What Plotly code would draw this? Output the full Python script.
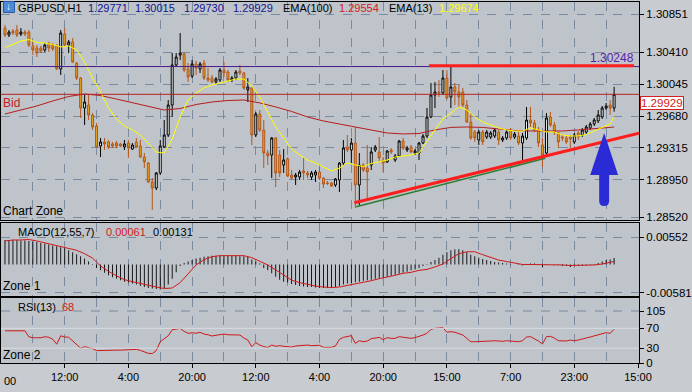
import plotly.graph_objects as go
from plotly.subplots import make_subplots

# ---------------- data ----------------
opens = [
1.30690,1.30610,1.30656,1.30667,1.30621,1.30644,1.30644,1.30484,1.30461,1.30461,
1.30438,1.30518,1.30495,1.30484,1.30220,1.30621,1.30495,1.30530,1.30288,1.30116,
1.29772,1.29806,1.29692,1.29565,1.29336,1.29382,1.29382,1.29359,1.29370,1.29359,
1.29324,1.29370,1.29301,1.29382,1.29336,1.29209,1.29140,1.28922,1.28853,1.29026,
1.29324,1.29462,1.29806,1.30266,1.30380,1.30392,1.30220,1.30139,1.30277,1.30220,
1.30288,1.30116,1.30116,1.30070,1.30093,1.30208,1.30185,1.30093,1.30116,1.30197,
1.30174,1.29979,1.30002,1.29462,1.29703,1.29519,1.29255,1.29232,1.29428,1.29232,
1.29117,1.29187,1.29003,1.28980,1.28980,1.29049,1.29026,1.28980,1.29003,1.29037,
1.28968,1.28911,1.28911,1.28888,1.28945,1.29140,1.29324,1.29290,1.29370,1.28888,
1.29117,1.29083,1.29117,1.29290,1.29267,1.29175,1.29152,1.29290,1.29175,1.29221,
1.29393,1.29290,1.29324,1.29255,1.29255,1.29370,1.29450,1.29669,1.29921,1.29956,
1.29944,1.30116,1.29898,1.30013,1.29956,1.29956,1.29806,1.29611,1.29496,1.29405,
1.29496,1.29439,1.29439,1.29450,1.29496,1.29405,1.29428,1.29519,1.29439,1.29450,
1.29370,1.29428,1.29634,1.29600,1.29519,1.29347,1.29255,1.29669,1.29577,1.29485,
1.29439,1.29428,1.29439,1.29382,1.29485,1.29462,1.29496,1.29542,1.29588,1.29623,
1.29669,1.29772,1.29806,1.29771]
highs = [
1.30725,1.30667,1.30679,1.30725,1.30690,1.30667,1.30667,1.30530,1.30495,1.30484,
1.30518,1.30530,1.30518,1.30507,1.30667,1.30690,1.30553,1.30576,1.30300,1.30128,
1.29921,1.29921,1.29714,1.29600,1.29428,1.29428,1.29405,1.29382,1.29393,1.29370,
1.29405,1.29405,1.29370,1.29428,1.29405,1.29255,1.29152,1.28968,1.29037,1.29405,
1.29634,1.29864,1.30403,1.30403,1.30633,1.30415,1.30288,1.30323,1.30311,1.30300,
1.30323,1.30231,1.30151,1.30128,1.30231,1.30300,1.30208,1.30139,1.30208,1.30266,
1.30185,1.30116,1.30013,1.29726,1.29749,1.29634,1.29290,1.29439,1.29439,1.29290,
1.29301,1.29209,1.29060,1.29026,1.29060,1.29209,1.29049,1.29049,1.29060,1.29095,
1.28980,1.28934,1.28922,1.28968,1.29152,1.29405,1.29462,1.29428,1.29554,1.29255,
1.29140,1.29347,1.29324,1.29347,1.29439,1.29209,1.29290,1.29313,1.29244,1.29405,
1.29428,1.29336,1.29347,1.29301,1.29382,1.29473,1.29772,1.30059,1.30070,1.30093,
1.30208,1.30208,1.30243,1.30059,1.30036,1.30002,1.29864,1.29714,1.29519,1.29519,
1.29519,1.29519,1.29508,1.29542,1.29519,1.29450,1.29519,1.29542,1.29496,1.29496,
1.29485,1.29783,1.29783,1.29634,1.29554,1.29428,1.29714,1.29726,1.29611,1.29496,
1.29462,1.29450,1.29462,1.29485,1.29508,1.29542,1.29577,1.29611,1.29657,1.29749,
1.29795,1.29829,1.29864,1.30015]
lows = [
1.30587,1.30587,1.30610,1.30587,1.30598,1.30598,1.30472,1.30380,1.30357,1.30403,
1.30415,1.30415,1.30426,1.30208,1.30151,1.30472,1.30403,1.30288,1.30093,1.29657,
1.29577,1.29634,1.29519,1.29313,1.29209,1.29290,1.29301,1.29313,1.29313,1.29324,
1.29290,1.29198,1.29290,1.29313,1.29198,1.29083,1.28911,1.28601,1.28830,1.29003,
1.29313,1.29439,1.29669,1.30243,1.30323,1.30185,1.30070,1.30116,1.30151,1.30174,
1.30093,1.30070,1.30059,1.30047,1.30070,1.30128,1.30070,1.30070,1.30093,1.30151,
1.29979,1.29841,1.29347,1.29439,1.29496,1.29083,1.29117,1.28968,1.28865,1.28980,
1.29026,1.28980,1.28945,1.28888,1.28945,1.28945,1.28968,1.28945,1.28922,1.28945,
1.28853,1.28888,1.28865,1.28865,1.28808,1.29117,1.29267,1.29140,1.28624,1.28658,
1.29037,1.28739,1.29060,1.29267,1.29152,1.29037,1.29140,1.29244,1.29152,1.29209,
1.29290,1.29267,1.29255,1.29232,1.29175,1.29359,1.29428,1.29657,1.29772,1.29898,
1.29921,1.29875,1.29772,1.29806,1.29783,1.29783,1.29600,1.29405,1.29382,1.29347,
1.29347,1.29416,1.29416,1.29428,1.29347,1.29382,1.29405,1.29405,1.29416,1.29347,
1.29175,1.29405,1.29554,1.29496,1.29324,1.29095,1.29209,1.29554,1.29462,1.29313,
1.29393,1.29359,1.29313,1.29359,1.29405,1.29439,1.29473,1.29519,1.29565,1.29600,
1.29646,1.29749,1.29692,1.29730]
closes = [
1.30610,1.30644,1.30633,1.30610,1.30644,1.30621,1.30495,1.30438,1.30403,1.30426,
1.30495,1.30461,1.30449,1.30220,1.30633,1.30495,1.30530,1.30300,1.30116,1.29772,
1.29841,1.29692,1.29554,1.29324,1.29382,1.29359,1.29324,1.29336,1.29336,1.29336,
1.29359,1.29313,1.29347,1.29324,1.29209,1.29152,1.28922,1.28853,1.29026,1.29336,
1.29462,1.29806,1.30266,1.30357,1.30403,1.30208,1.30128,1.30277,1.30231,1.30277,
1.30116,1.30093,1.30070,1.30105,1.30208,1.30174,1.30093,1.30116,1.30185,1.30174,
1.30002,1.30013,1.29462,1.29703,1.29519,1.29255,1.29221,1.29428,1.29026,1.29026,
1.29175,1.28991,1.28968,1.29003,1.29037,1.29026,1.29003,1.29026,1.29037,1.28968,
1.28899,1.28905,1.28876,1.28957,1.29140,1.29313,1.29290,1.29370,1.28888,1.29117,
1.29060,1.29037,1.29267,1.29324,1.29198,1.29140,1.29278,1.29267,1.29221,1.29393,
1.29313,1.29313,1.29267,1.29278,1.29370,1.29450,1.29669,1.29921,1.29956,1.29944,
1.30116,1.29887,1.30013,1.29956,1.29898,1.29806,1.29611,1.29428,1.29428,1.29496,
1.29382,1.29496,1.29485,1.29519,1.29405,1.29428,1.29496,1.29428,1.29473,1.29370,
1.29450,1.29634,1.29600,1.29519,1.29370,1.29232,1.29657,1.29577,1.29496,1.29382,
1.29428,1.29382,1.29416,1.29462,1.29439,1.29519,1.29554,1.29588,1.29634,1.29692,
1.29772,1.29795,1.29772,1.29929]

# EMA(100), sampled every 4th bar (+ last bar)
ema100 = [
1.29703,1.29749,1.29795,1.29853,1.29904,1.29933,1.29915,1.29875,1.29835,1.29795,
1.29749,1.29766,1.29812,1.29841,1.29858,1.29864,1.29830,1.29784,1.29732,1.29669,
1.29623,1.29588,1.29554,1.29520,1.29485,1.29474,1.29479,1.29520,1.29549,1.29554,
1.29549,1.29531,1.29514,1.29508,1.29508,1.29508,1.29520,1.29531,1.29549,1.29554]
# EMA(13), sampled every 2nd bar (+ last bar)
ema13 = [
1.30466,1.30501,1.30541,1.30558,1.30524,1.30518,1.30501,1.30472,1.30484,1.30438,
1.30300,1.30117,1.29956,1.29772,1.29646,1.29565,1.29520,1.29462,1.29359,1.29267,
1.29256,1.29416,1.29669,1.29864,1.29944,1.30002,1.30036,1.30059,1.30082,1.30105,
1.30105,1.30025,1.29898,1.29726,1.29554,1.29428,1.29302,1.29233,1.29175,1.29141,
1.29095,1.29049,1.29083,1.29141,1.29118,1.29100,1.29135,1.29152,1.29175,1.29210,
1.29221,1.29233,1.29256,1.29393,1.29520,1.29646,1.29715,1.29784,1.29749,1.29669,
1.29611,1.29577,1.29543,1.29520,1.29508,1.29508,1.29543,1.29520,1.29497,1.29497,
1.29462,1.29451,1.29451,1.29468,1.29508,1.29543,1.29588,1.29674]

macd_hist = [
0.0050,0.0050,0.0050,0.0050,0.0049,0.0049,0.0048,0.0047,0.0046,0.0044,
0.0043,0.0041,0.0039,0.0037,0.0035,0.0033,0.0029,0.0025,0.0021,0.0017,
0.0012,0.0006,-0.0001,-0.0007,-0.0012,-0.0017,-0.0022,-0.0026,-0.0029,-0.0032,
-0.0035,-0.0037,-0.0039,-0.0041,-0.0044,-0.0046,-0.0048,-0.0049,-0.0050,-0.0051,
-0.0048,-0.0041,-0.0029,-0.0016,-0.0003,0.0003,0.0006,0.0009,0.0012,0.0014,
0.0016,0.0017,0.0018,0.0018,0.0018,0.0018,0.0018,0.0018,0.0018,0.0017,
0.0017,0.0016,0.0010,0.0006,0.0002,-0.0007,-0.0012,-0.0018,-0.0025,-0.0031,
-0.0035,-0.0037,-0.0040,-0.0042,-0.0044,-0.0045,-0.0046,-0.0046,-0.0047,-0.0048,
-0.0048,-0.0048,-0.0047,-0.0046,-0.0044,-0.0041,-0.0039,-0.0038,-0.0036,-0.0035,
-0.0033,-0.0032,-0.0031,-0.0029,-0.0028,-0.0027,-0.0025,-0.0023,-0.0021,-0.0019,
-0.0017,-0.0015,-0.0012,-0.0010,-0.0007,-0.0003,-0.0001,0.0005,0.0009,0.0014,
0.0020,0.0025,0.0029,0.0031,0.0031,0.0029,0.0025,0.0020,0.0017,0.0014,
0.0011,0.0009,0.0007,0.0005,0.0004,0.0003,0.0002,0.0001,0.0000,-0.0001,
-0.0002,0.0000,0.0002,0.0002,-0.0001,-0.0005,-0.0001,0.0000,-0.0001,-0.0001,
-0.0003,-0.0003,-0.0005,-0.0003,-0.0003,-0.0003,-0.0002,-0.0001,0.0001,0.0003,
0.0006,0.0009,0.0010,0.00131]
# signal line, sampled every 2nd bar (+ last bar)
macd_signal = [
0.0048,0.0050,0.0050,0.0051,0.0048,0.0044,0.0040,0.0037,0.0033,0.0029,
0.0022,0.0013,-0.0003,-0.0014,-0.0023,-0.0031,-0.0035,-0.0039,-0.0043,-0.0046,
-0.0049,-0.0048,-0.0037,-0.0018,-0.0001,0.0010,0.0016,0.0018,0.0018,0.0018,
0.0018,0.0014,0.0007,-0.0001,-0.0011,-0.0022,-0.0032,-0.0037,-0.0041,-0.0044,
-0.0046,-0.0047,-0.0046,-0.0043,-0.0039,-0.0036,-0.0033,-0.0029,-0.0026,-0.0022,
-0.0018,-0.0016,-0.0012,-0.0010,-0.0005,0.0001,0.0012,0.0022,0.0026,0.0026,
0.0020,0.0014,0.0009,0.0006,0.0003,0.0000,0.0000,0.0000,0.0000,0.0000,
-0.0001,-0.0002,-0.0002,-0.0002,-0.0001,0.0001,0.0005,0.00061]

rsi = [
65,65,65,65,65,65,53,51,51,51,
53,52,48,38,55,52.5,52,45,38,30,
33,31,29,25,25.5,26,26,26,26,26,
26,26,27.5,27.5,25.5,22,19.5,19,25,43,
48.5,55,67,68,70,64,60,61,60,62,
58.5,57,54.5,56,58,58.5,57,56.5,57,56.5,
50.5,46.4,33,41,36.3,33,31.6,36.3,33.7,35,
33.7,32.3,32.3,34.3,35,35.7,36.3,35,35.7,35.7,
31.6,31.6,31.6,34.3,47.8,51.8,53.9,55.2,39.7,45,
43,44.4,49.1,51.2,51.8,47.1,51.2,49.8,49.8,53.2,
51.8,50.5,49.8,51.2,53.2,56.5,59.9,68,70,71.4,
71.4,62,63.3,62,59.9,56.5,49.8,43,43,43,
43,44.4,44.4,45,43.8,43.8,45,44.4,43.8,43,
45,52.5,53.2,49.1,44.4,38.4,53.2,53.9,50.5,45,
45,44.4,46.4,45,46.4,47.8,50.5,52.5,54.5,56.5,
57.9,61.3,59.9,68]

price_ticks = [1.30851, 1.30410, 1.30045, 1.29680, 1.29315, 1.28950, 1.28520]
macd_ticks = [0.00552, -0.00581]
rsi_ticks = [0, 30, 70, 105]
time_ticks = [15, 31, 47, 63, 79, 95, 111, 127, 143, 159]
time_labels = ["12:00", "4:00", "20:00", "12:00", "4:00", "20:00", "15:00", "7:00", "23:00", "15:00"]

hline_level = 1.30248
bid_level = 1.29929
resistance = [(106.5, 1.30258), (158.0, 1.30258)]
support_red = [(87.75, 1.28685), (159.25, 1.29483)]
support_green = [(88.2, 1.28639), (135.7, 1.29194)]
arrow = dict(tip=(150.5, 1.29485), base=1.29003, head_l=147.0, head_r=154.0,
             shaft_l=149.25, shaft_r=151.75, tail=1.28648, round=0.00057)

# ---------------- figure ----------------
FONT = "Liberation Sans, Arial, sans-serif"
GRID = "#7a8ba1"
PLOT_L, PLOT_R, PLOT_T, PLOT_B = 0, 641, 2, 363
W, H = 692, 392


def px(x):
    return (x - PLOT_L) / (PLOT_R - PLOT_L)


def py(y):
    return (PLOT_B - y) / (PLOT_B - PLOT_T)


n = len(closes)
idx = list(range(n))
ema100_idx = list(range(0, n - 1, 4)) + [n - 1]
ema13_idx = list(range(0, n - 1, 2)) + [n - 1]
sig_idx = list(range(0, n - 1, 2)) + [n - 1]

fig = make_subplots(rows=3, cols=1, shared_xaxes=True, vertical_spacing=0.01)

fig.add_trace(go.Candlestick(
    x=idx, open=opens, high=highs, low=lows, close=closes,
    increasing=dict(line=dict(color="#000000", width=1), fillcolor="#f2f7f5"),
    decreasing=dict(line=dict(color="#b5561c", width=1), fillcolor="#e6a21c"),
    whiskerwidth=0, showlegend=False, hoverinfo="skip"), row=1, col=1)
fig.add_trace(go.Scatter(x=ema100_idx, y=ema100, mode="lines",
                         line=dict(color="#b81c1c", width=1), showlegend=False), row=1, col=1)
fig.add_trace(go.Scatter(x=ema13_idx, y=ema13, mode="lines",
                         line=dict(color="#ffff00", width=1), showlegend=False), row=1, col=1)

fig.add_trace(go.Bar(x=idx, y=macd_hist, width=0.22,
                     marker=dict(color="#000000", line=dict(width=0)), showlegend=False), row=2, col=1)
fig.add_trace(go.Scatter(x=sig_idx, y=macd_signal, mode="lines",
                         line=dict(color="#d01818", width=1), showlegend=False), row=2, col=1)

fig.add_trace(go.Scatter(x=idx, y=rsi, mode="lines",
                         line=dict(color="#d01818", width=1), showlegend=False), row=3, col=1)

xcommon = dict(range=[-1, 159.25], showline=True, mirror=True, linecolor="#000000", linewidth=1,
               tickmode="array", tickvals=time_ticks, showgrid=True, gridcolor=GRID,
               griddash="dash", gridwidth=1, zeroline=False, rangeslider=dict(visible=False),
               minor=dict(tickmode="linear", tick0=-1, dtick=8, showgrid=True, gridcolor=GRID,
                          griddash="dash", gridwidth=1, ticks=""))
fig.update_layout(
    xaxis=dict(**xcommon, showticklabels=False, ticks=""),
    xaxis2=dict(**xcommon, showticklabels=False, ticks=""),
    xaxis3=dict(**xcommon, ticktext=time_labels, ticks="outside", ticklen=4,
                tickcolor="#000000", tickfont=dict(size=11, color="#000000", family=FONT)),
)

ycommon = dict(side="right", showline=True, mirror=True, linecolor="#000000", linewidth=1,
               ticks="outside", ticklen=4, tickcolor="#000000", tickmode="array",
               zeroline=False, tickfont=dict(size=11.5, color="#000000", family=FONT))
fig.update_layout(
    yaxis=dict(**ycommon, domain=[py(220), 1], range=[1.28486, 1.30989],
               tickvals=price_ticks, ticktext=["%.5f" % v for v in price_ticks],
               showgrid=True, gridcolor=GRID, griddash="dash"),
    yaxis2=dict(**ycommon, domain=[py(295.5), py(223)], range=[-0.00633, 0.00847],
                tickvals=macd_ticks, ticktext=["%.5f" % v for v in macd_ticks],
                showgrid=True, gridcolor=GRID, griddash="dash"),
    yaxis3=dict(**ycommon, domain=[0, py(298)], range=[0, 131.3],
                tickvals=rsi_ticks, ticktext=[str(v) for v in rsi_ticks], showgrid=False),
)

shapes = []
# RSI levels
shapes.append(dict(type="line", xref="x3 domain", x0=0, x1=1, yref="y3", y0=105, y1=105,
                   line=dict(color=GRID, width=1, dash="dash")))
for lv in (70, 30):
    shapes.append(dict(type="line", xref="x3 domain", x0=0, x1=1, yref="y3", y0=lv, y1=lv,
                       line=dict(color="#d9dde1", width=1)))
# horizontal lines
shapes.append(dict(type="line", xref="x domain", x0=0, x1=1, yref="y", y0=hline_level, y1=hline_level,
                   line=dict(color="#4a1a8a", width=1)))
shapes.append(dict(type="line", xref="x domain", x0=0, x1=1, yref="y", y0=bid_level, y1=bid_level,
                   line=dict(color="#b82020", width=1)))
shapes.append(dict(type="line", xref="x", yref="y", x0=resistance[0][0], y0=resistance[0][1],
                   x1=resistance[1][0], y1=resistance[1][1], line=dict(color="#ff1e1e", width=3)))
# trend lines
shapes.append(dict(type="line", xref="x", yref="y", x0=support_green[0][0], y0=support_green[0][1],
                   x1=support_green[1][0], y1=support_green[1][1], line=dict(color="#2e7d32", width=1.5)))
shapes.append(dict(type="line", xref="x", yref="y", x0=support_red[0][0], y0=support_red[0][1],
                   x1=support_red[1][0], y1=support_red[1][1], line=dict(color="#ff1e1e", width=3)))
# blue arrow
a = arrow
mid = (a["shaft_l"] + a["shaft_r"]) / 2
path = (f"M {a['shaft_l']},{a['base']} L {a['head_l']},{a['base']} L {a['tip'][0]},{a['tip'][1]} "
        f"L {a['head_r']},{a['base']} L {a['shaft_r']},{a['base']} "
        f"L {a['shaft_r']},{a['tail'] + a['round']} Q {a['shaft_r']},{a['tail']} {mid},{a['tail']} "
        f"Q {a['shaft_l']},{a['tail']} {a['shaft_l']},{a['tail'] + a['round']} Z")
shapes.append(dict(type="path", xref="x", yref="y", path=path, fillcolor="#2b2bd6",
                   line=dict(width=0)))
# header icon
shapes.append(dict(type="rect", xref="paper", yref="paper", x0=px(2.5), x1=px(13.5),
                   y0=py(12.5), y1=py(1.5), fillcolor="#4a8ad8", line=dict(color="#2a5aa8", width=1)))
fig.update_layout(shapes=shapes)


def label(x, y, text, color="#000000", size=11.5, xanchor="left", **kw):
    return dict(xref="paper", yref="paper", x=px(x), y=py(y), text=text, showarrow=False,
                xanchor=xanchor, yanchor="middle", borderpad=0,
                font=dict(color=color, size=size, family=FONT), **kw)


NAVY = "#14148f"
HS = 11
ann = [
    label(8, 7, "↓", color="#ffffff", size=10, xanchor="center"),
    label(16, 8, "GBPUSD,H1", size=HS),
    label(86, 8, "%.5f" % opens[-1], color=NAVY, size=HS),
    label(134, 8, "%.5f" % highs[-1], color=NAVY, size=HS),
    label(183, 8, "%.5f" % lows[-1], color=NAVY, size=HS),
    label(232, 8, "%.5f" % closes[-1], color=NAVY, size=HS),
    label(282, 8, "EMA(100)", size=HS),
    label(339, 8, "%.5f" % ema100[-1], color="#d42020", size=HS),
    label(389, 8, "EMA(13)", size=HS),
    label(439, 8, "%.5f" % ema13[-1], color="#ffff00", size=HS),
    label(637, 58, "%.5f" % hline_level, color="#5a1fa8", size=12, xanchor="right"),
    label(1, 103, "Bid", color="#c82020", size=12),
    label(1, 211, "Chart Zone", size=12),
    label(16, 232, "MACD(12,55,7)", size=HS),
    label(104, 232, "%.5f" % macd_signal[-1], color="#d42020", size=HS),
    label(152, 232, "%.5f" % macd_hist[-1], size=HS),
    label(1, 286, "Zone 1", size=12),
    label(16, 306.5, "RSI(13)", size=HS),
    label(60, 306.5, "%d" % rsi[-1], color="#d42020", size=HS),
    label(1, 355, "Zone 2", size=12),
    label(2, 381, "00", size=11),
    label(642, 103.5, "%.5f" % bid_level, color="#d42020", size=11.5,
          bgcolor="#ffffff", bordercolor="#d42020", borderwidth=1),
]
fig.update_layout(annotations=ann)

fig.update_layout(
    width=W, height=H,
    margin=dict(l=PLOT_L, r=W - PLOT_R, t=PLOT_T, b=H - PLOT_B),
    paper_bgcolor="#c8cbcf", plot_bgcolor="#bec4ca",
    showlegend=False, hovermode=False,
    font=dict(family=FONT, color="#000000"),
)

fig.write_html("out.html", config={"displayModeBar": False, "staticPlot": True},
               post_script="document.body.style.margin='0';document.body.style.padding='0';")
